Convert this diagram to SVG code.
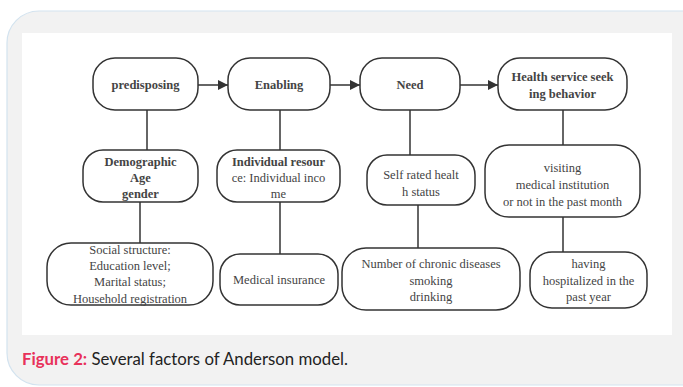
<svg xmlns="http://www.w3.org/2000/svg" width="683" height="387" viewBox="0 0 683 387">
<defs>
<style>
.box{fill:#fff;stroke:#333;stroke-width:1.5}
.t{font-family:"Liberation Serif","Times New Roman",serif;font-size:12.5px;fill:#444;text-anchor:middle}
.b{font-weight:bold}
.ln{stroke:#333;stroke-width:1.5;fill:none}
</style>
<marker id="ah" viewBox="0 0 10 10" refX="10" refY="5" markerWidth="10" markerHeight="10" markerUnits="userSpaceOnUse" orient="auto">
<path d="M0,0 L10,5 L0,10 z" fill="#333"/>
</marker>
</defs>
<rect x="7" y="11" width="710" height="374" rx="32" fill="#f2f2f2" stroke="#d3e3ef" stroke-width="1.2"/>
<rect x="22" y="33" width="650" height="302" fill="#fff"/>

<g id="connectors">
<line class="ln" x1="198" y1="85" x2="228" y2="85" marker-end="url(#ah)"/>
<line class="ln" x1="330" y1="85" x2="360" y2="85" marker-end="url(#ah)"/>
<line class="ln" x1="460" y1="85" x2="498" y2="85" marker-end="url(#ah)"/>
<line class="ln" x1="147" y1="110" x2="147" y2="150"/>
<line class="ln" x1="140" y1="202" x2="140" y2="243"/>
<line class="ln" x1="280" y1="110" x2="280" y2="150"/>
<line class="ln" x1="280" y1="202" x2="280" y2="254"/>
<line class="ln" x1="410" y1="110" x2="410" y2="155"/>
<line class="ln" x1="418" y1="205" x2="418" y2="248"/>
<line class="ln" x1="563" y1="110" x2="563" y2="145"/>
<line class="ln" x1="563" y1="217" x2="563" y2="252"/>
</g>

<g id="predisposing">
<rect class="box" x="93" y="58" width="105" height="52" rx="22"/>
<text class="t b" x="145.5" y="89">predisposing</text>
</g>
<g id="enabling">
<rect class="box" x="228" y="58" width="102" height="52" rx="22"/>
<text class="t b" x="279" y="89">Enabling</text>
</g>
<g id="need">
<rect class="box" x="360" y="58" width="100" height="52" rx="22"/>
<text class="t b" x="410" y="89">Need</text>
</g>
<g id="health">
<rect class="box" x="498" y="58" width="129" height="52" rx="22"/>
<text class="t b" x="562.5" y="81">Health service seek</text>
<text class="t b" x="562.5" y="98">ing behavior</text>
</g>

<g id="demographic">
<rect class="box" x="83" y="150" width="115" height="52" rx="20"/>
<text class="t b" x="140.5" y="166">Demographic</text>
<text class="t b" x="140.5" y="182">Age</text>
<text class="t b" x="140.5" y="198">gender</text>
</g>
<g id="individual">
<rect class="box" x="217" y="150" width="123" height="52" rx="20"/>
<text class="t b" x="278.5" y="166">Individual resour</text>
<text class="t" x="278.5" y="182">ce: Individual inco</text>
<text class="t" x="278.5" y="198">me</text>
</g>
<g id="selfrated">
<rect class="box" x="367" y="155" width="108" height="50" rx="20"/>
<text class="t" x="421" y="179">Self rated healt</text>
<text class="t" x="421" y="196">h status</text>
</g>
<g id="visiting">
<rect class="box" x="485" y="145" width="155" height="72" rx="24"/>
<text class="t" x="562.5" y="172">visiting</text>
<text class="t" x="562.5" y="189">medical institution</text>
<text class="t" x="562.5" y="206">or not in the past month</text>
</g>

<g id="social">
<rect class="box" x="47" y="243" width="166" height="62" rx="24"/>
<text class="t" x="130" y="254">Social structure:</text>
<text class="t" x="130" y="270">Education level;</text>
<text class="t" x="130" y="286">Marital status;</text>
<text class="t" x="130" y="303">Household registration</text>
</g>
<g id="insurance">
<rect class="box" x="220" y="254" width="118" height="51" rx="20"/>
<text class="t" x="279" y="284">Medical insurance</text>
</g>
<g id="chronic">
<rect class="box" x="342" y="248" width="178" height="62" rx="24"/>
<text class="t" x="431" y="268">Number of chronic diseases</text>
<text class="t" x="431" y="285">smoking</text>
<text class="t" x="431" y="301">drinking</text>
</g>
<g id="hospitalized">
<rect class="box" x="530" y="252" width="117" height="56" rx="22"/>
<text class="t" x="588.5" y="268">having</text>
<text class="t" x="588.5" y="285">hospitalized in the</text>
<text class="t" x="588.5" y="301">past year</text>
</g>

<text x="22" y="365" font-family="Lato,'Open Sans',sans-serif" font-size="17" fill="#222" textLength="326" lengthAdjust="spacingAndGlyphs"><tspan fill="#e8315a" font-weight="bold">Figure 2:</tspan> Several factors of Anderson model.</text>
</svg>
